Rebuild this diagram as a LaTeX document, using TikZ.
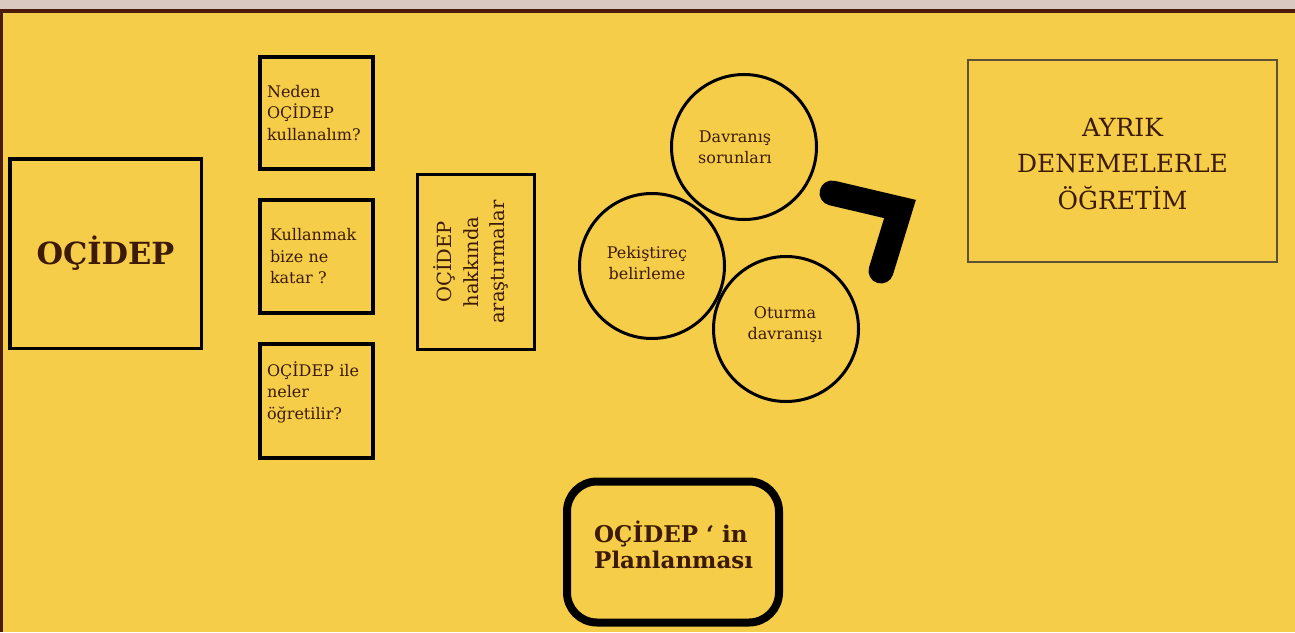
\documentclass[tikz,border=0pt]{standalone}
\usepackage{fontspec}
\setmainfont{DejaVu Serif}
\definecolor{bgyellow}{HTML}{F5CD48}
\definecolor{topstrip}{HTML}{D9C9C1}
\definecolor{darkbrown}{HTML}{4B1C0C}
\definecolor{txt}{HTML}{3C1A06}
\definecolor{graybox}{HTML}{5E5236}
\tikzset{
  qbox/.style={draw=black, line width=4, minimum width=113, align=left, text=txt,
    font=\fontsize{16}{21.5}\selectfont, inner xsep=7, text width=99},
  circ/.style={draw=black, line width=3, circle, minimum size=145, inner sep=0},
  ctext/.style={align=center, text=txt, font=\fontsize{16}{21}\selectfont, inner sep=0}
}
\begin{document}
\begin{tikzpicture}[x=1pt,y=-1pt]
\useasboundingbox (0,0) rectangle (1295,632);
\fill[bgyellow] (0,0) rectangle (1295,632);
\fill[topstrip] (0,0) rectangle (1295,9);
\fill[darkbrown] (0,9) rectangle (1295,13);
\fill[darkbrown] (0,9) rectangle (3,632);

% main box
\node[draw=black, line width=3.5, minimum width=191.5, minimum height=189.5, text=txt,
  font=\bfseries\fontsize{30.5}{34}\selectfont] (main) at (105.5,253.5) {OÇİDEP};

% question boxes
\node[qbox, minimum height=112] (q1) at (316.5,113) {Neden\\OÇİDEP\\kullanalım?};
\node[qbox, minimum height=113, inner xsep=10, text width=93] (q2) at (316.5,256.5) {Kullanmak\\bize ne\\katar ?};
\node[qbox, minimum height=114] (q3) at (316.5,401) {OÇİDEP ile\\neler\\öğretilir?\\\mbox{}};

% vertical box
\node[draw=black, line width=3, rotate=90, minimum width=175, minimum height=117, align=center,
  text=txt, font=\fontsize{19.5}{26.5}\selectfont] (res) at (476,262) {};
\node[rotate=90, align=center, text=txt, font=\fontsize{19.5}{26.5}\selectfont, inner sep=0]
  (restext) at (471,262) {OÇİDEP\\hakkında\\araştırmalar};

% circles
\node[circ] (c1) at (744,147) {};
\node[circ] (c2) at (652,266) {};
\node[circ] (c3) at (786,329) {};
\node[ctext] (t1) at (735,147) {Davranış\\sorunları};
\node[ctext] (t2) at (647,263) {Pekiştireç\\belirleme};
\node[ctext] (t3) at (785,325) {Oturma\\davranışı};

% thick bent bar
\draw[black, line width=25, line cap=round, line join=miter] (832,193) -- (900,209) -- (881,271);

% right box
\node[draw=graybox, line width=2, minimum width=309, minimum height=202] (ayrik) at (1122.5,161) {};
\node[align=center, text=txt, font=\fontsize{25}{36.5}\selectfont, inner sep=0]
  (ayriktext) at (1122.5,164) {AYRIK\\DENEMELERLE\\ÖĞRETİM};

% rounded box
\node[draw=black, line width=8, rounded corners=30, minimum width=212, minimum height=141] (plan) at (673,552) {};
\node[anchor=west, align=left, text=txt, inner sep=0,
  font=\bfseries\fontsize{23}{26.5}\selectfont] (plantext) at (594,545) {OÇİDEP ‘ in\\Planlanması};
\end{tikzpicture}
\end{document}
